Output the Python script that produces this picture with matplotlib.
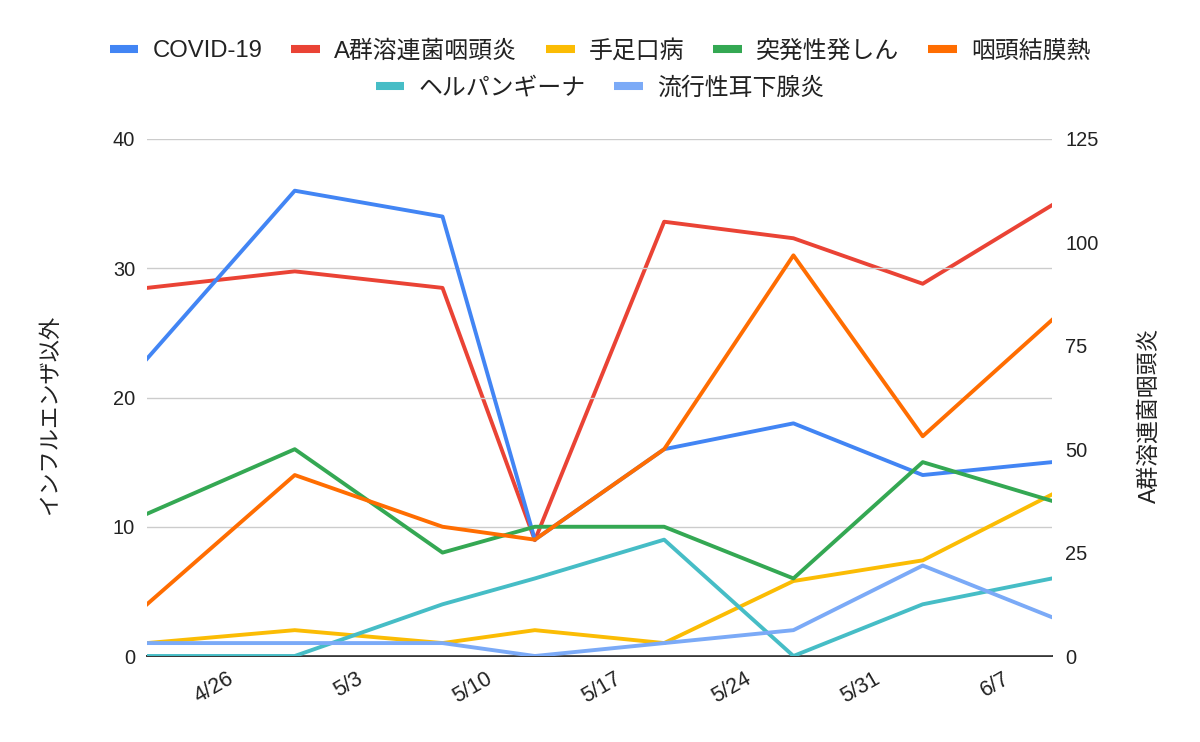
import matplotlib
matplotlib.use('Agg')
import matplotlib.pyplot as plt
import matplotlib.transforms as mtransforms
import pandas as pd

plt.rcParams['font.family'] = ['Liberation Sans', 'Noto Sans CJK JP']

# report dates (x axis is a real date axis)
dates = ['2024-04-22', '2024-04-30', '2024-05-08', '2024-05-13',
         '2024-05-20', '2024-05-27', '2024-06-03', '2024-06-10']
tick_dates = ['2024-04-26', '2024-05-03', '2024-05-10', '2024-05-17',
              '2024-05-24', '2024-05-31', '2024-06-07']
tick_labels = ['4/26', '5/3', '5/10', '5/17', '5/24', '5/31', '6/7']

# left axis series
covid = [23, 36, 34, 9, 16, 18, 14, 15]
hfmd = [1, 2, 1, 2, 1, 5.8, 7.4, 12.5]
roseola = [11, 16, 8, 10, 10, 6, 15, 12]
pcf = [4, 14, 10, 9, 16, 31, 17, 26]
herpangina = [0, 0, 4, 6, 9, 0, 4, 6]
mumps = [1, 1, 1, 0, 1, 2, 7, 3]

# right axis series
strep_a = [89, 93, 89, 28, 105, 101, 90, 109]

left_ticks = [0, 10, 20, 30, 40]
right_ticks = [0, 25, 50, 75, 100, 125]

x = pd.to_datetime(dates)
txt = '#222222'
lw = 2.8

fig = plt.figure(figsize=(12, 7.42), dpi=100)
ax1 = fig.add_axes([147 / 1200, 86 / 742, 905 / 1200, 517 / 742])
ax2 = ax1.twinx()
ax1.set_zorder(ax2.get_zorder() + 1)
ax1.patch.set_visible(False)

l_covid, = ax1.plot(x, covid, color='#4285F4', lw=lw, label='COVID-19')
l_hfmd, = ax1.plot(x, hfmd, color='#FBBC04', lw=lw, label='手足口病')
l_roseola, = ax1.plot(x, roseola, color='#34A853', lw=lw, label='突発性発しん')
l_pcf, = ax1.plot(x, pcf, color='#FF6D01', lw=lw, label='咽頭結膜熱')
l_herp, = ax1.plot(x, herpangina, color='#46BDC6', lw=lw, label='ヘルパンギーナ')
l_mumps, = ax1.plot(x, mumps, color='#7BAAF7', lw=lw, label='流行性耳下腺炎')
l_strep, = ax2.plot(x, strep_a, color='#EA4335', lw=lw, label='A群溶連菌咽頭炎')

ax1.set_xlim(x[0], x[-1])
ax1.set_ylim(0, 40)
ax2.set_ylim(0, 125)
ax1.set_yticks(left_ticks)
ax2.set_yticks(right_ticks)
ax1.set_xticks(pd.to_datetime(tick_dates))
ax1.set_xticklabels(tick_labels, rotation=30, ha='right', va='top',
                    rotation_mode='anchor')

ax1.yaxis.grid(True, color='#cccccc', lw=1.0)
ax1.set_axisbelow(True)

for ax in (ax1, ax2):
    for s in ax.spines.values():
        s.set_visible(False)
ax1.spines['bottom'].set_visible(True)
ax1.spines['bottom'].set_color('#333333')
ax1.spines['bottom'].set_linewidth(1.4)
ax1.spines['bottom'].set_zorder(0.5)

ax1.tick_params(axis='x', length=0, pad=9, labelsize=15.5, labelcolor=txt)
ax1.tick_params(axis='y', length=0, pad=8.6, labelsize=14.4, labelcolor=txt)
ax2.tick_params(axis='y', length=0, pad=9.4, labelsize=14.4, labelcolor=txt)

shift = mtransforms.ScaledTranslation(6 / 100, 0, fig.dpi_scale_trans)
for lab in ax1.get_xticklabels():
    lab.set_transform(lab.get_transform() + shift)

fig.text(51 / 1200, 1 - 415 / 742, 'インフルエンザ以外', rotation=90,
         ha='center', va='center', fontsize=16, color=txt)
fig.text(1149 / 1200, 1 - 415 / 742, 'A群溶連菌咽頭炎', rotation=90,
         ha='center', va='center', fontsize=16.5, color=txt)

row1 = [l_covid, l_strep, l_hfmd, l_roseola, l_pcf]
row2 = [l_herp, l_mumps]
legend_kw = dict(loc='center', frameon=False, fontsize=17.2, handlelength=1.2,
                 handletextpad=0.6, columnspacing=1.2, labelcolor=txt)
leg1 = fig.legend(handles=row1, labels=[h.get_label() for h in row1],
                  bbox_to_anchor=(0.5, 1 - 51 / 742), ncol=5, **legend_kw)
leg2 = fig.legend(handles=row2, labels=[h.get_label() for h in row2],
                  bbox_to_anchor=(0.5, 1 - 88 / 742), ncol=2, **legend_kw)
for leg in (leg1, leg2):
    for h in leg.legend_handles:
        h.set_linewidth(5.8)
        h.set_solid_capstyle('butt')

fig.savefig('out.png', dpi=100)
